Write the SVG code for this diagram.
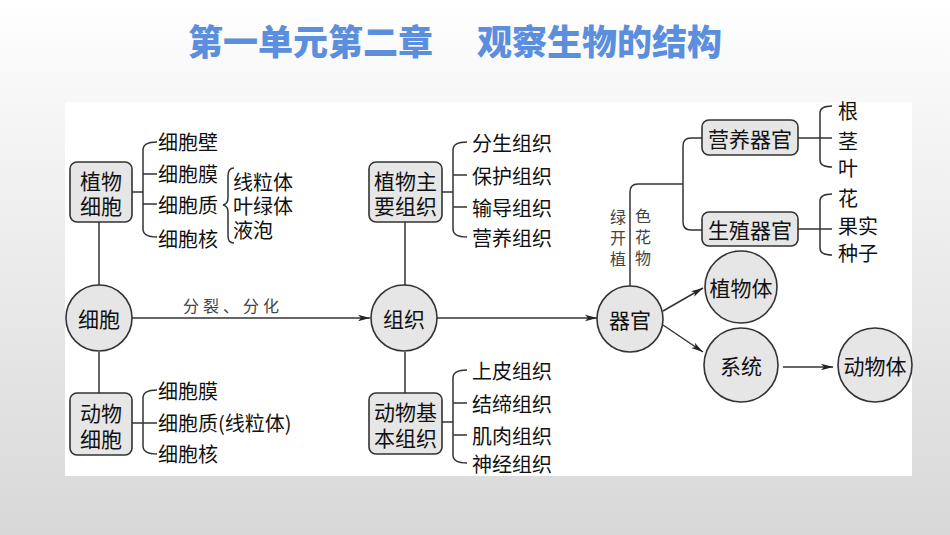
<svg xmlns="http://www.w3.org/2000/svg" width="950" height="535" viewBox="0 0 950 535">
<defs>
<linearGradient id="bg" x1="0" y1="0" x2="0" y2="1">
<stop offset="0" stop-color="#ffffff"/>
<stop offset="0.15" stop-color="#f8f8f8"/>
<stop offset="1" stop-color="#d8d8d8"/>
</linearGradient>
<marker id="arr" viewBox="0 0 12 8" refX="12" refY="4" markerWidth="12" markerHeight="8" markerUnits="userSpaceOnUse" orient="auto">
<path d="M0,0.8 L12,4 L0,7.2 L3,4 Z" fill="#222"/>
</marker>
<style>
.nd{fill:#e6e6e6;stroke:#333;stroke-width:1.6}
.t{font-family:"Noto Sans CJK SC","Noto Sans",sans-serif;font-size:20px;fill:#111;dominant-baseline:central}
.tn{font-family:"Noto Sans CJK SC","Noto Sans",sans-serif;font-size:21px;fill:#111;dominant-baseline:central;text-anchor:middle}
.lb{font-family:"Noto Sans CJK SC","Noto Sans",sans-serif;font-size:16px;fill:#444;dominant-baseline:central;text-anchor:middle}
.ln{fill:none;stroke:#333;stroke-width:1.5}
.title{font-family:"Noto Sans CJK SC","Noto Sans",sans-serif;font-size:35px;font-weight:900;fill:#5b8fdd}
</style>
</defs>
<rect x="0" y="0" width="950" height="535" fill="url(#bg)"/>
<rect x="65" y="102" width="847" height="374" fill="#ffffff"/>
<text class="title" x="188" y="55">第一单元第二章</text>
<text class="title" x="477" y="55">观察生物的结构</text>

<g id="connectors">
<!-- vertical lines cell -->
<line class="ln" x1="99" y1="222" x2="99" y2="285"/>
<line class="ln" x1="99" y1="352" x2="99" y2="393"/>
<line class="ln" x1="405" y1="222" x2="405" y2="285"/>
<line class="ln" x1="405" y1="352" x2="405" y2="393"/>
<!-- main arrows -->
<line class="ln" x1="132" y1="318" x2="370" y2="318" marker-end="url(#arr)"/>
<line class="ln" x1="437" y1="318" x2="597" y2="318" marker-end="url(#arr)"/>
<line class="ln" x1="663" y1="311" x2="703" y2="288" marker-end="url(#arr)"/>
<line class="ln" x1="663" y1="325" x2="703" y2="352" marker-end="url(#arr)"/>
<line class="ln" x1="783" y1="367" x2="833" y2="367" marker-end="url(#arr)"/>
<!-- plant cell bracket -->
<path class="ln" d="M132,192 H143 M157,142 Q143,142 143,150 V229 Q143,237 157,237 M143,174 H157 M143,204 H157"/>
<path class="ln" d="M234,168 Q228,168 228,176 V198 Q228,204 223,205 Q228,206 228,212 V236 Q228,243 234,243"/>
<!-- animal cell bracket -->
<path class="ln" d="M132,423 H157 M157,390 Q143,390 143,398 V446 Q143,454 157,454"/>
<!-- plant tissue bracket -->
<path class="ln" d="M442,192 H453 M467,142 Q453,142 453,150 V229 Q453,237 467,237 M453,175 H467 M453,207 H467"/>
<!-- animal tissue bracket -->
<path class="ln" d="M442,422 H453 M467,370 Q453,370 453,378 V455 Q453,463 467,463 M453,403 H467 M453,435 H467"/>
<!-- organ tree -->
<path class="ln" d="M630,286 V192 Q630,184 638,184 H683 M702,138 H691 Q683,138 683,146 V222 Q683,230 691,230 H702"/>
<path class="ln" d="M798,138 H832 M832,106 Q820,106 820,113 V160 Q820,167 832,167"/>
<path class="ln" d="M798,229 H832 M832,194 Q820,194 820,201 V248 Q820,255 832,255"/>
</g>

<g id="n-plantcell"><rect class="nd" x="70" y="162" width="62" height="60" rx="7"/><text class="tn" x="101" y="180">植物</text><text class="tn" x="101" y="205">细胞</text></g>
<g id="plantcell-items">
<text class="t" x="158" y="141">细胞壁</text>
<text class="t" x="158" y="173">细胞膜</text>
<text class="t" x="158" y="204">细胞质</text>
<text class="t" x="158" y="238">细胞核</text>
<text class="t" x="233" y="181">线粒体</text>
<text class="t" x="233" y="205">叶绿体</text>
<text class="t" x="233" y="229">液泡</text>
</g>
<g id="n-cell"><circle class="nd" cx="99" cy="318" r="33"/><text class="tn" x="99" y="318">细胞</text></g>
<text class="lb" x="233" y="305" letter-spacing="4">分裂、分化</text>
<g id="n-animalcell"><rect class="nd" x="70" y="393" width="62" height="62" rx="7"/><text class="tn" x="101" y="412">动物</text><text class="tn" x="101" y="438">细胞</text></g>
<g id="animalcell-items">
<text class="t" x="158" y="390">细胞膜</text>
<text class="t" x="158" y="422">细胞质(线粒体)</text>
<text class="t" x="158" y="453">细胞核</text>
</g>

<g id="n-planttissue"><rect class="nd" x="369" y="162" width="73" height="60" rx="7"/><text class="tn" x="405.5" y="180">植物主</text><text class="tn" x="405.5" y="205">要组织</text></g>
<g id="planttissue-items">
<text class="t" x="472" y="142">分生组织</text>
<text class="t" x="472" y="175">保护组织</text>
<text class="t" x="472" y="207">输导组织</text>
<text class="t" x="472" y="237">营养组织</text>
</g>
<g id="n-tissue"><circle class="nd" cx="404" cy="318" r="33"/><text class="tn" x="404" y="318">组织</text></g>
<g id="n-animaltissue"><rect class="nd" x="369" y="393" width="73" height="61" rx="7"/><text class="tn" x="405.5" y="411">动物基</text><text class="tn" x="405.5" y="437">本组织</text></g>
<g id="animaltissue-items">
<text class="t" x="472" y="370">上皮组织</text>
<text class="t" x="472" y="403">结缔组织</text>
<text class="t" x="472" y="435">肌肉组织</text>
<text class="t" x="472" y="463">神经组织</text>
</g>

<g id="n-organ"><circle class="nd" cx="630" cy="319" r="33"/><text class="tn" x="630" y="319">器官</text></g>
<g id="organ-label">
<text class="lb" x="618" y="216">绿</text><text class="lb" x="618" y="237">开</text><text class="lb" x="618" y="258">植</text>
<text class="lb" x="643" y="215">色</text><text class="lb" x="643" y="236">花</text><text class="lb" x="643" y="257">物</text>
</g>
<g id="n-veg"><rect class="nd" x="702" y="120" width="96" height="35" rx="7"/><text class="tn" x="750" y="138">营养器官</text></g>
<g id="n-rep"><rect class="nd" x="702" y="212" width="96" height="34" rx="7"/><text class="tn" x="750" y="229">生殖器官</text></g>
<g id="veg-items">
<text class="t" x="838" y="110">根</text>
<text class="t" x="838" y="140">茎</text>
<text class="t" x="838" y="167">叶</text>
</g>
<g id="rep-items">
<text class="t" x="838" y="197">花</text>
<text class="t" x="838" y="225">果实</text>
<text class="t" x="838" y="252">种子</text>
</g>
<g id="n-plant"><circle class="nd" cx="741" cy="287" r="36"/><text class="tn" x="741" y="287">植物体</text></g>
<g id="n-system"><circle class="nd" cx="741" cy="365" r="37"/><text class="tn" x="741" y="365">系统</text></g>
<g id="n-animal"><circle class="nd" cx="875" cy="365" r="37"/><text class="tn" x="875" y="365">动物体</text></g>
</svg>
